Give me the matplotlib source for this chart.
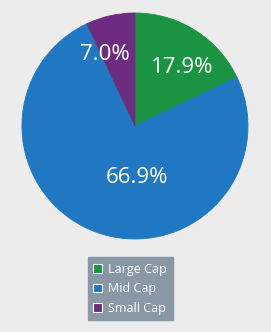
import matplotlib.pyplot as plt

categories = ["Large Cap", "Mid Cap", "Small Cap"]
shares = [17.9, 66.9, 7.0]
colors = ["#1a9443", "#1f78c1", "#6e2c80"]
# where each percentage label sits (in units of the pie radius)
label_pos = [(0.42, 0.52), (0.02, -0.46), (-0.27, 0.63)]

# the shares do not add up to 100; the rest is drawn in the mid cap colour
rest = 100 - sum(shares)
sizes = [shares[0], shares[1], rest, shares[2]]
size_colors = [colors[0], colors[1], colors[1], colors[2]]

fig = plt.figure(figsize=(2.71, 3.32), dpi=100, facecolor="#ececec")
ax = fig.add_axes([0.081, 0.280, 0.834, 0.681])
ax.set_facecolor("#ececec")

wedges, _ = ax.pie(sizes, colors=size_colors, startangle=90,
                   counterclock=False)
# edge in the fill colour so no seam shows between the two blue parts
for w in wedges:
    w.set_edgecolor(w.get_facecolor())
    w.set_linewidth(0.6)
for v, (x, y) in zip(shares, label_pos):
    ax.text(x, y, f"{v:.1f}%", color="white", fontsize=16,
            family="Open Sans", ha="center", va="center")
ax.set_aspect("equal")
ax.set_xlim(-1, 1)
ax.set_ylim(-1, 1)

handles = [wedges[0], wedges[1], wedges[3]]
leg = fig.legend(
    handles, categories, loc="center", bbox_to_anchor=(0.48, 0.13),
    frameon=True, fancybox=False, facecolor="#8898a5", edgecolor="#8898a5",
    framealpha=1, handlelength=0.7, handleheight=0.7,
    handletextpad=0.5, labelspacing=0.5, borderpad=0.45,
    prop=dict(family="Open Sans", size=9),
)
for t in leg.get_texts():
    t.set_color("white")
for h in leg.legend_handles:
    h.set_edgecolor("white")
    h.set_linewidth(0.8)

fig.savefig("out.png", dpi=100, facecolor=fig.get_facecolor())
